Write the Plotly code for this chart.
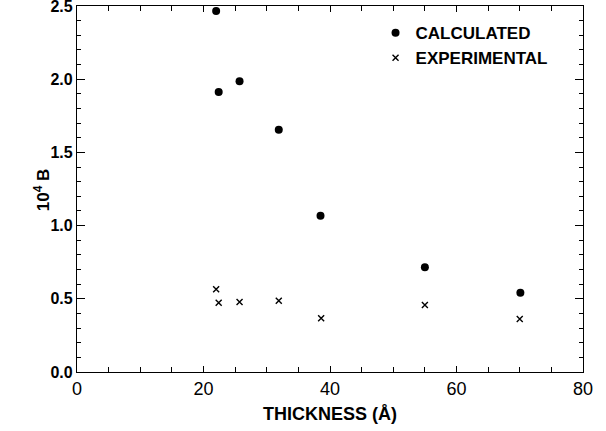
import plotly.graph_objects as go

thickness_calc = [22.0, 22.4, 25.7, 31.9, 38.5, 55.0, 70.1]
b_calc = [2.466, 1.913, 1.986, 1.655, 1.068, 0.715, 0.542]

thickness_exp = [22.0, 22.4, 25.7, 31.9, 38.6, 55.0, 70.0]
b_exp = [0.565, 0.473, 0.478, 0.487, 0.367, 0.458, 0.362]

x_range = [0, 80]
y_range = [0, 2.5]

FONT = "Liberation Sans, Arial, sans-serif"

fig = go.Figure()
fig.add_trace(go.Scatter(
    x=thickness_calc, y=b_calc, mode="markers", name="CALCULATED",
    marker=dict(symbol="circle", size=8, color="black"),
))
fig.add_trace(go.Scatter(
    x=thickness_exp, y=b_exp, mode="markers", name="EXPERIMENTAL",
    marker=dict(symbol="x-thin-open", size=6, color="black",
                line=dict(width=1.4, color="black")),
))
# empty traces that bind the mirrored tick axes (top and right)
fig.add_trace(go.Scatter(x=[], y=[], xaxis="x2", yaxis="y", showlegend=False, hoverinfo="skip"))
fig.add_trace(go.Scatter(x=[], y=[], xaxis="x", yaxis="y2", showlegend=False, hoverinfo="skip"))

x_ticks = dict(range=x_range, dtick=20, tick0=0, ticks="inside", ticklen=6, tickwidth=1,
               tickcolor="black", automargin=False,
               minor=dict(dtick=5, ticks="inside", ticklen=5, tickcolor="black", tickwidth=1))
y_ticks = dict(range=y_range, dtick=0.5, tick0=0, ticks="inside", ticklen=8, tickwidth=1,
               tickcolor="black", automargin=False,
               minor=dict(dtick=0.1, ticks="inside", ticklen=4, tickcolor="black", tickwidth=1))

fig.update_layout(
    width=606, height=431,
    margin=dict(l=77, r=23, t=6, b=59),
    plot_bgcolor="white", paper_bgcolor="white",
    xaxis=dict(
        **x_ticks,
        showgrid=False, zeroline=False, showline=True, linecolor="black",
        linewidth=1.2, mirror=True, ticklabeloverflow="allow",
        tickfont=dict(family=FONT, size=18, color="black"),
        title=dict(text="<b>THICKNESS (Å)</b>", standoff=9,
                   font=dict(family=FONT, size=18, color="black")),
    ),
    yaxis=dict(
        **y_ticks,
        tickformat=".1f",
        showgrid=False, zeroline=False, showline=True, linecolor="black",
        linewidth=1.2, mirror=True, ticklabeloverflow="allow",
        tickfont=dict(family=FONT, size=16, color="black", weight="bold"),
    ),
    xaxis2=dict(
        **x_ticks, overlaying="x", side="top", anchor="y",
        showticklabels=False, showgrid=False, zeroline=False, showline=False,
    ),
    yaxis2=dict(
        **y_ticks, overlaying="y", side="right", anchor="x",
        showticklabels=False, showgrid=False, zeroline=False, showline=False,
    ),
    annotations=[dict(
        text="<b>10<sup>4</sup> B</b>", textangle=-90,
        xref="paper", yref="paper", x=-0.069, y=0.497,
        xanchor="center", yanchor="middle", showarrow=False,
        font=dict(family=FONT, size=17, color="black"),
    )],
    showlegend=True,
    legend=dict(
        x=0.59, y=0.975, xanchor="left", yanchor="top",
        bgcolor="rgba(0,0,0,0)", borderwidth=0,
        font=dict(family=FONT, size=17, color="black", weight="bold"),
        itemwidth=30, tracegroupgap=0,
    ),
)

fig.write_html("out.html")
